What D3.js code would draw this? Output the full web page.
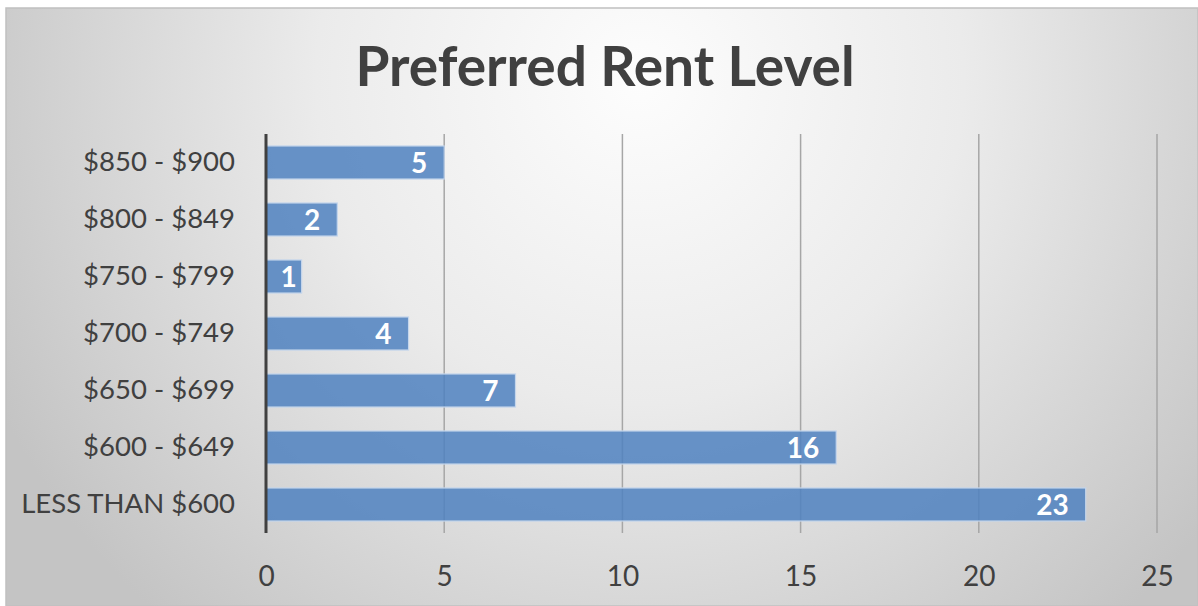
<!DOCTYPE html>
<html><head><meta charset="utf-8">
<script src="https://cdn.jsdelivr.net/npm/d3@7"></script>
<style>html,body{margin:0;padding:0;background:#fff;}svg{display:block;}</style>
</head><body>
<svg id="chart" width="1198" height="606"></svg>
<script>
const categories = ["$850 - $900","$800 - $849","$750 - $799","$700 - $749","$650 - $699","$600 - $649","LESS THAN $600"];
const values = [5,2,1,4,7,16,23];
const xTicks = [0,5,10,15,20,25];
const title = "Preferred Rent Level";

(function(){
const W = 1198, H = 606;
const svg = d3.select("#chart");
const defs = svg.append("defs");
const g = defs.append("radialGradient").attr("id","bg")
  .attr("gradientUnits","userSpaceOnUse").attr("cx",640).attr("cy",80).attr("r",720);
g.append("stop").attr("offset","0%").attr("stop-color","#fdfdfd");
g.append("stop").attr("offset","45%").attr("stop-color","#ebebeb");
g.append("stop").attr("offset","100%").attr("stop-color","#c4c4c4");

svg.append("rect").attr("x",6).attr("y",8).attr("width",W-6).attr("height",H-8)
  .attr("fill","url(#bg)").attr("stroke","#c0c0c0").attr("stroke-width",1.5);

const font = "Lato, 'Open Sans', sans-serif";
const pL = 266, pR = 1157, pT = 134, pB = 533;
const x = d3.scaleLinear().domain([0,25]).range([pL,pR]);
const y = d3.scaleBand().domain(categories).range([pT,pB]).paddingInner(0.42).paddingOuter(0.21);

svg.append("text").attr("x",605).attr("y",86).attr("text-anchor","middle")
  .attr("font-family",font).attr("font-weight","bold").attr("font-size",55)
  .attr("fill","#404040").text(title);

svg.append("g").selectAll("line").data(xTicks.filter(d=>d>0)).join("line")
  .attr("x1",d=>x(d)).attr("x2",d=>x(d)).attr("y1",pT).attr("y2",pB)
  .attr("stroke","#a6a6a6").attr("stroke-width",1.5);

svg.append("g").selectAll("rect").data(values).join("rect")
  .attr("x",x(0)).attr("y",(d,i)=>y(categories[i]))
  .attr("width",d=>x(d)-x(0)).attr("height",y.bandwidth())
  .attr("fill","#4f81c0").attr("fill-opacity",0.85)
  .attr("stroke","#c5d6ec").attr("stroke-width",1.2);

svg.append("g").selectAll("text").data(values).join("text")
  .attr("x",d=>x(d)-(d<2?5:17)).attr("y",(d,i)=>y(categories[i])+y.bandwidth()/2+10)
  .attr("text-anchor","end").attr("font-family",font).attr("font-weight","bold")
  .attr("font-size",28).attr("fill","#fff").text(d=>d);

svg.append("line").attr("x1",x(0)).attr("x2",x(0)).attr("y1",pT).attr("y2",pB)
  .attr("stroke","#404040").attr("stroke-width",3);

const yAxis = d3.axisLeft(y).tickSize(0).tickPadding(31);
const ya = svg.append("g").attr("transform",`translate(${pL},0)`).call(yAxis);
ya.select(".domain").remove();
ya.selectAll("text").attr("font-family",font).attr("font-size",27.5).attr("fill","#404040");

const xAxis = d3.axisBottom(x).tickValues(xTicks).tickSize(0).tickPadding(0);
const xa = svg.append("g").attr("transform",`translate(0,${pB+53})`).call(xAxis);
xa.select(".domain").remove();
xa.selectAll("text").attr("dy",0).attr("font-family",font).attr("font-size",28).attr("fill","#404040");
})();
</script>
</body></html>
